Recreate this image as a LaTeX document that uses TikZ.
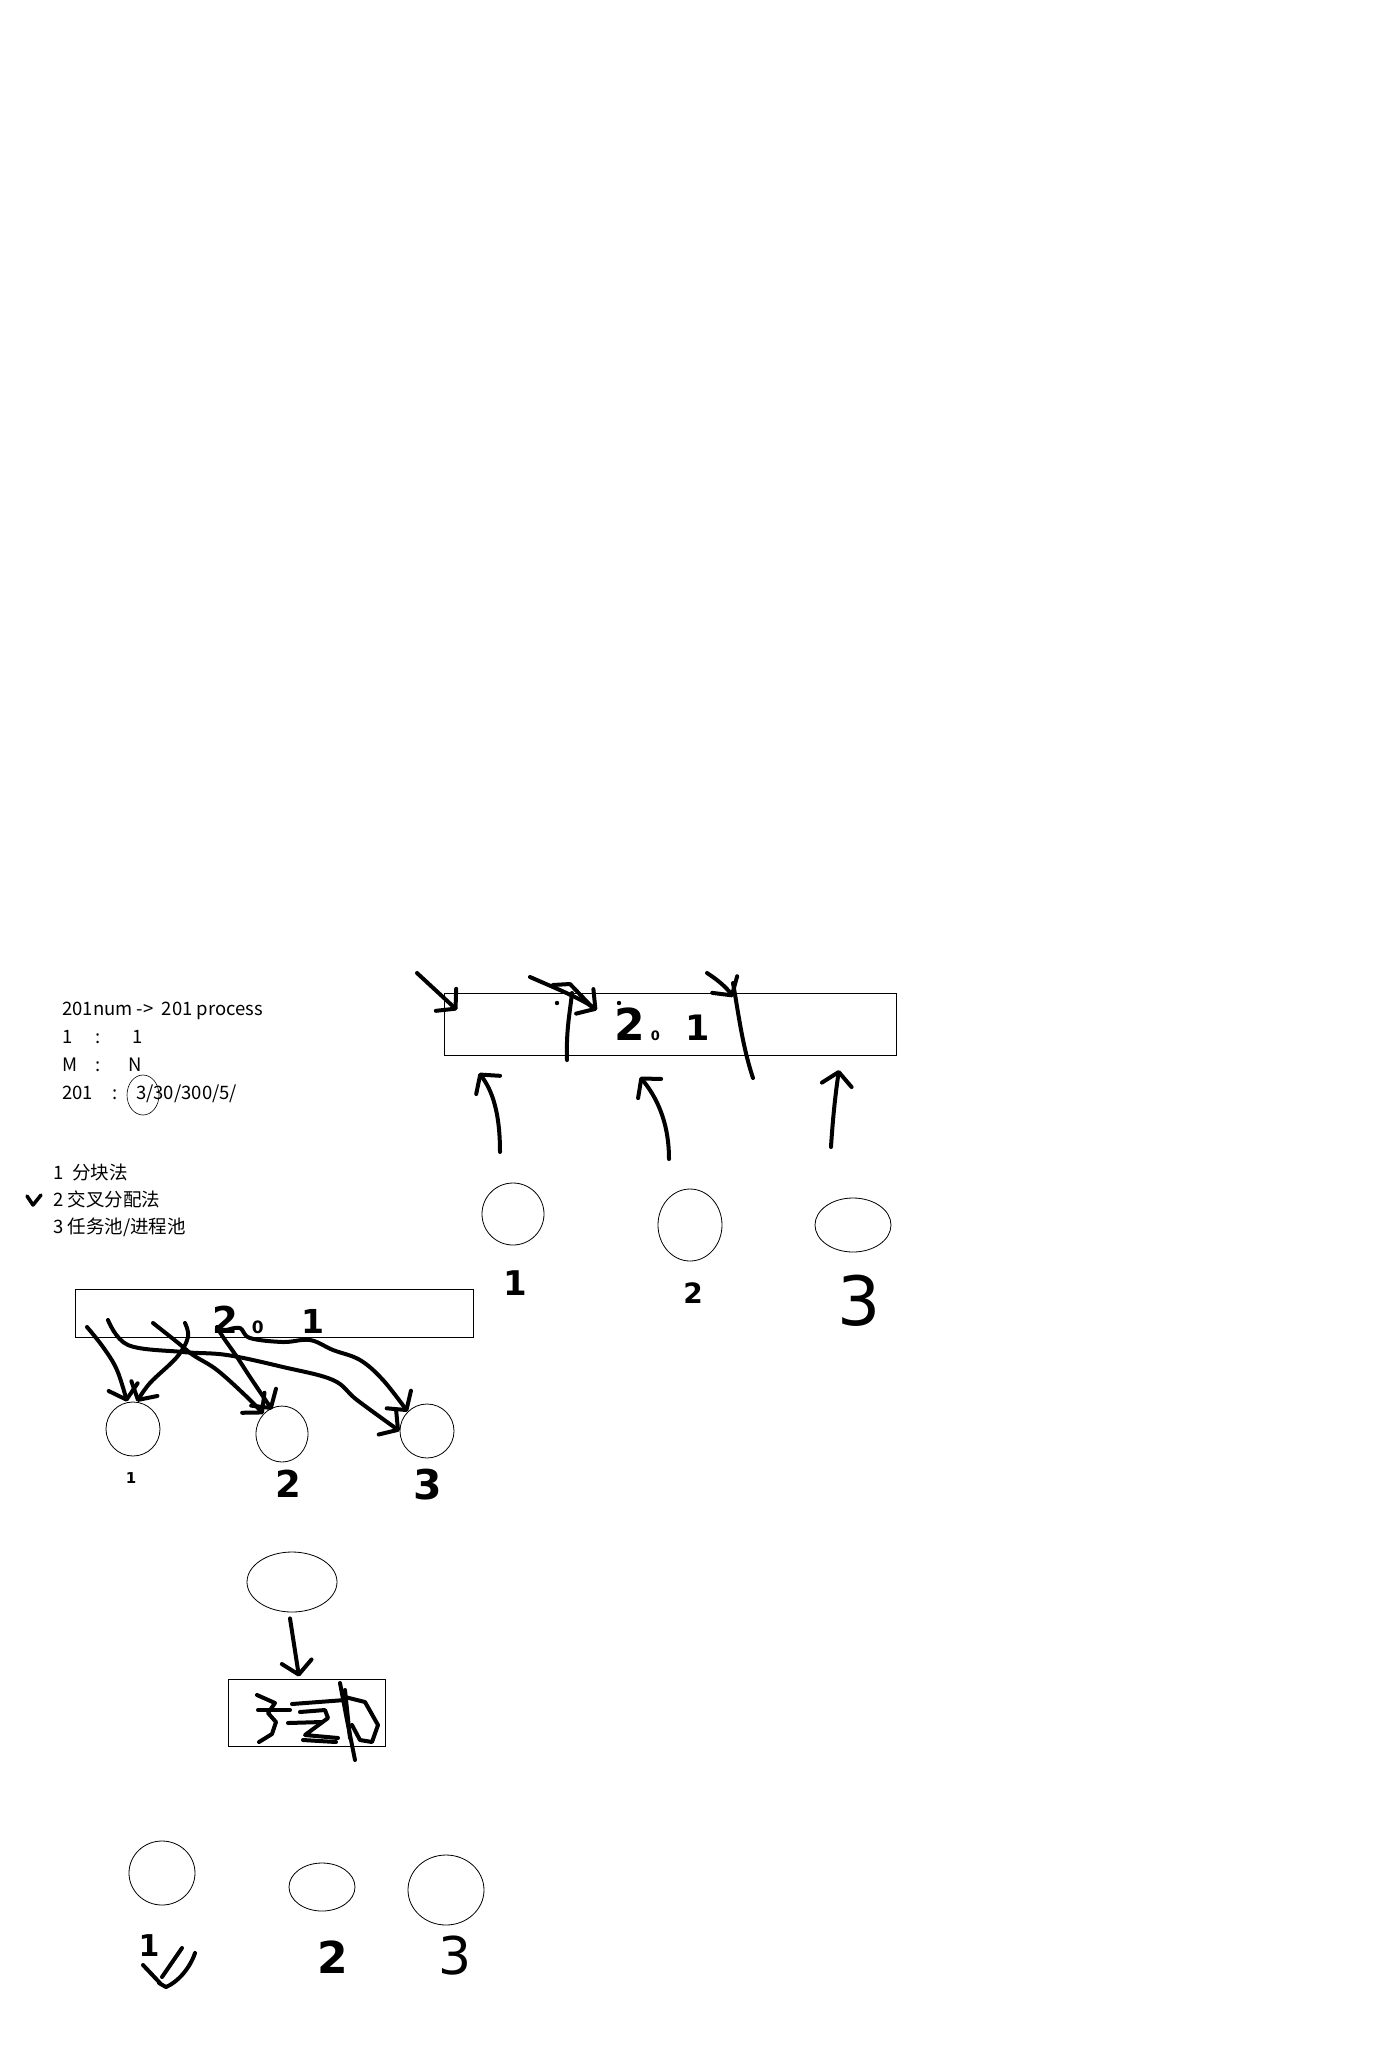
\documentclass[tikz,border=0pt]{standalone}
\usepackage{fontspec}
\setmainfont{Noto Sans CJK SC}
\newfontfamily\handfont{DejaVu Sans}
\usetikzlibrary{arrows.meta,shapes.geometric}
\newcommand\hsz[2]{{\fontsize{#1}{#1}\selectfont #2}}
\begin{document}
\begin{tikzpicture}[x=1pt,y=-1pt,
  txt/.style={font=\fontsize{18.5}{22}\selectfont, inner sep=0pt, anchor=base west},
  frame/.style={draw, line width=0.9pt, inner sep=0pt},
  oval/.style={draw, ellipse, line width=0.8pt, inner sep=0pt},
  pen/.style={line width=4pt, line cap=round, line join=round},
  harrow/.style={pen, -{Straight Barb[length=13pt,width=30pt,round]}},
  hl/.style={font=\handfont\bfseries, inner sep=0pt},
  hlthin/.style={font=\handfont, inner sep=0pt}
]
\fill[white] (0,0) rectangle (1396,2048);
\useasboundingbox (0,0) rectangle (1396,2048);

% ---------- printed notes ----------
\node[txt] (t1) at (62,1015) {201num ->\ \ 201 process};
\node[txt] (t2) at (62,1043) {\makebox[33pt][l]{1}\makebox[37pt][l]{:}1};
\node[txt] (t3) at (62,1071) {\makebox[33pt][l]{M}\makebox[33pt][l]{:}N};
\node[txt] (t4) at (62,1099) {\makebox[50pt][l]{201}\makebox[24pt][l]{:}3/30/300/5/};
\node[oval, line width=0.6pt, minimum width=32pt, minimum height=40pt] (o3) at (143,1095) {};

\node[txt] (l1) at (53,1179) {1\hspace{9pt}分块法};
\node[txt] (l2) at (53,1206) {2 交叉分配法};
\node[txt] (l3) at (53,1233) {3 任务池/进程池};
\draw[pen, line width=3.5pt] (27,1196) -- (33,1205) -- (41,1195);

% ---------- section 1 ----------
\node[frame, minimum width=452pt, minimum height=62pt] (box1) at (670,1024) {};
\node[hl, anchor=base west] (b1lbl) at (614,1040) {\hsz{44}{2}\hspace{6pt}\hsz{13}{0}\hspace{26pt}\hsz{35}{1}};

\node[oval, minimum width=62pt, minimum height=62pt] (c1) at (513,1214) {};
\node[oval, minimum width=64pt, minimum height=72pt] (c2) at (690,1225) {};
\node[oval, minimum width=76pt, minimum height=54pt] (c3) at (853,1225) {};
\node[hl] (c1l) at (515,1283) {\hsz{34}{1}};
\node[hl] (c2l) at (693,1293) {\hsz{28}{2}};
\node[hlthin] (c3l) at (859,1301) {\hsz{68}{3}};

\coordinate (u1s) at (500,1152); \coordinate (u1e) at (479,1073);
\coordinate (u2s) at (669,1159); \coordinate (u2e) at (640,1077);
\coordinate (u3s) at (831,1147); \coordinate (u3e) at (839,1070);
\draw[harrow] (u1s) .. controls (500,1112) and (492,1090) .. (u1e);
\draw[harrow] (u2s) .. controls (669,1120) and (655,1095) .. (u2e);
\draw[harrow] (u3s) .. controls (833,1115) and (836,1090) .. (u3e);

\coordinate (dAs) at (417,973); \coordinate (dAe) at (457,1010);
\coordinate (dBs) at (530,977); \coordinate (dBe) at (597,1010);
\coordinate (dCs) at (707,973); \coordinate (dCe) at (733,997);
\draw[harrow] (dAs) -- (dAe);
\draw[harrow] (dBs) .. controls (555,988) and (580,998) .. (dBe);
\draw[pen] (553,985) -- (570,984) -- (593,1008);
\draw[harrow] (dCs) .. controls (718,980) and (727,988) .. (dCe);
\draw[pen] (572,993) .. controls (570,1012) and (566,1030) .. (567,1060);
\draw[pen] (733,983) .. controls (738,1010) and (742,1045) .. (753,1078);
\fill (557,1003) circle (2.2pt);
\fill (619,1003) circle (2.2pt);

% ---------- section 2 ----------
\node[frame, minimum width=398pt, minimum height=48pt] (box2) at (274,1313) {};
\node[hl, anchor=base west] (b2lbl) at (212,1333) {\hsz{37}{2}\hspace{14pt}\hsz{17}{0}\hspace{38pt}\hsz{33}{1}};
\node[oval, minimum width=54pt, minimum height=54pt] (d1) at (133,1429) {};
\node[oval, minimum width=52pt, minimum height=56pt] (d2) at (282,1434) {};
\node[oval, minimum width=54pt, minimum height=54pt] (d3) at (427,1431) {};
\node[hl] (d1l) at (131,1478) {\hsz{15}{1}};
\node[hl] (d2l) at (288,1484) {\hsz{37}{2}};
\node[hl] (d3l) at (428,1485) {\hsz{41}{3}};

\coordinate (w1) at (87,1327);
\coordinate (w2) at (108,1320);
\coordinate (w3) at (153,1323);
\coordinate (w4) at (185,1323);
\coordinate (w5) at (217,1327);
\coordinate (w6) at (227,1330);
\draw[harrow] plot[smooth, tension=0.6] coordinates {(w1) (103,1347) (117,1370) ([xshift=-6pt]d1.north)};
\draw[harrow] plot[smooth, tension=0.6] coordinates {(w2) (128,1345) (183,1352) (227,1355) (283,1367) (333,1380) (357,1400) (d3.west)};
\draw[harrow] plot[smooth, tension=0.6] coordinates {(w3) (177,1342) (193,1355) (217,1370) (247,1397) (d2.north west)};
\draw[harrow] plot[smooth, tension=0.6] coordinates {(w4) (188,1337) (177,1357) (150,1383) ([xshift=4pt]d1.north)};
\draw[harrow] plot[smooth, tension=0.6] coordinates {(w5) (223,1337) (237,1357) (250,1377) ([xshift=-10pt,yshift=-4pt]d2.north)};
\draw[harrow] plot[smooth, tension=0.6] coordinates {(w6) (240,1328) (250,1338) (283,1342) (310,1340) (333,1350) (360,1360) (383,1380) (d3.north west)};

% ---------- section 3 ----------
\node[oval, minimum width=90pt, minimum height=60pt] (e0) at (292,1582) {};
\node[frame, minimum width=157pt, minimum height=67pt] (box3) at (306.5,1712.5) {};
\draw[harrow] ([xshift=-2pt,yshift=-6pt]e0.south) -- ([xshift=-7.5pt,yshift=2pt]box3.north);
\draw[pen] (257,1695) -- (275,1703) -- (268,1713) -- (276,1722) -- (272,1734) -- (259,1742);
\draw[pen] (258,1710) -- (290,1710);
\draw[pen] (292,1704) -- (345,1700);
\draw[pen] (288,1723) -- (322,1722);
\draw[pen] (303,1740) -- (336,1742);
\draw[pen] (300,1712) -- (325,1710) -- (328,1718) -- (305,1735) -- (338,1738);
\draw[pen] (340,1683) -- (347,1720) -- (355,1760);
\draw[pen] (345,1690) -- (350,1738);
\draw[pen] (345,1697) -- (365,1702) -- (378,1725) -- (372,1742) -- (360,1740) -- (352,1725);

% ---------- section 4 ----------
\node[oval, minimum width=66pt, minimum height=64pt] (f1) at (162,1873) {};
\node[oval, minimum width=66pt, minimum height=48pt] (f2) at (322,1887) {};
\node[oval, minimum width=76pt, minimum height=70pt] (f3) at (446,1890) {};
\node[hl] (f1l) at (149,1946) {\hsz{30}{1}};
\node[hl] (f2l) at (333,1957) {\hsz{44}{2}};
\node[hlthin] (f3l) at (455,1956) {\hsz{52}{3}};
\draw[pen] (143,1965) -- (160,1983);
\draw[pen] (182,1948) -- (162,1977);
\draw[pen] (195,1953) .. controls (190,1968) and (178,1982) .. (166,1987) -- (159,1983);
\end{tikzpicture}
\end{document}
